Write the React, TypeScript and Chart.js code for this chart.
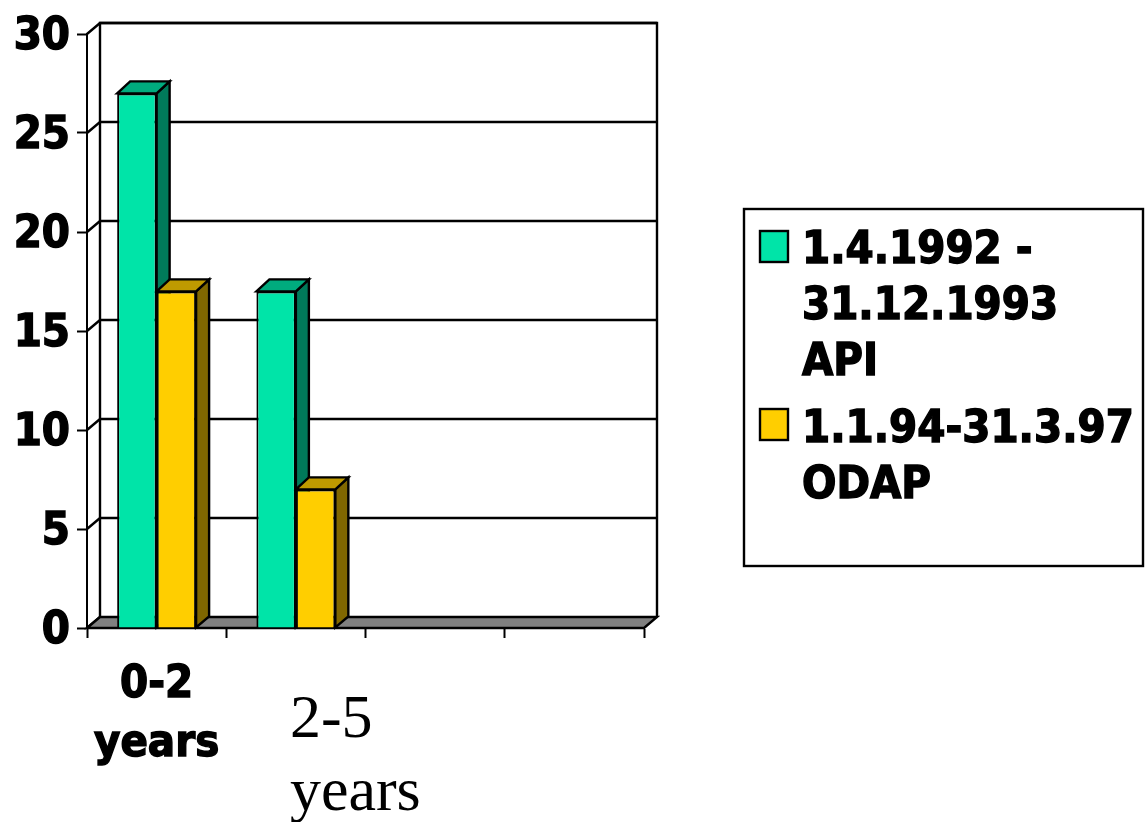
import React, { useEffect, useRef } from "react";
import { Chart, registerables } from "chart.js";

Chart.register(...registerables);

const categories: string[][] = [["0-2", "years"], ["2-5", "years"], [""], [""]];
const series1Lines = ["1.4.1992 -", "31.12.1993", "API"];
const series2Lines = ["1.1.94-31.3.97", "ODAP"];
const series1Values = [27, 17, null, null];
const series2Values = [17, 7, null, null];
const yMax = 30;
const yStep = 5;

const GREEN = "#00E4A8";
const GREEN_SIDE = "#007A5A";
const GREEN_TOP = "#00AB7E";
const YELLOW = "#FFCE00";
const YELLOW_SIDE = "#806700";
const YELLOW_TOP = "#BF9A00";
const INK = "#000000";
const BOLD_FAMILY = '"DejaVu Sans Condensed"';
const DEPTH_X = 13;
const WALL_DY = 11;
const TOP_DY = 12;
const LINE = 2.4;

const wall3d = {
  id: "wall3d",
  beforeDatasetsDraw(chart: any) {
    const { ctx, scales } = chart;
    const x = scales.x;
    const y = scales.y;
    ctx.save();
    ctx.lineWidth = LINE;
    ctx.strokeStyle = INK;
    const l = x.left;
    const r = x.right;
    const b = y.bottom;
    const t = y.top;
    ctx.beginPath();
    ctx.moveTo(l + DEPTH_X, b - WALL_DY);
    ctx.lineTo(l + DEPTH_X, t - WALL_DY);
    ctx.lineTo(r + DEPTH_X, t - WALL_DY);
    ctx.lineTo(r + DEPTH_X, b - WALL_DY);
    ctx.stroke();
    y.ticks.forEach((tk: any) => {
      const py = y.getPixelForValue(tk.value);
      ctx.beginPath();
      ctx.moveTo(l, py);
      ctx.lineTo(l + DEPTH_X, py - WALL_DY);
      if (tk.value > 0) ctx.lineTo(r + DEPTH_X, py - WALL_DY);
      ctx.stroke();
    });
    ctx.fillStyle = "#808080";
    ctx.beginPath();
    ctx.moveTo(l, b);
    ctx.lineTo(l + DEPTH_X, b - WALL_DY);
    ctx.lineTo(r + DEPTH_X, b - WALL_DY);
    ctx.lineTo(r, b);
    ctx.closePath();
    ctx.fill();
    ctx.stroke();

    const shades = [
      [GREEN_SIDE, GREEN_TOP],
      [YELLOW_SIDE, YELLOW_TOP],
    ];
    const n = categories.length;
    for (let i = 0; i < n; i++) {
      chart.data.datasets.forEach((_: any, d: number) => {
        const el = chart.getDatasetMeta(d).data[i];
        const val = chart.data.datasets[d].data[i];
        if (!el || val == null) return;
        const left = el.x - el.width / 2;
        const right = el.x + el.width / 2;
        ctx.fillStyle = shades[d][0];
        ctx.beginPath();
        ctx.moveTo(right, el.y);
        ctx.lineTo(right + DEPTH_X, el.y - TOP_DY);
        ctx.lineTo(right + DEPTH_X, el.base - WALL_DY);
        ctx.lineTo(right, el.base);
        ctx.closePath();
        ctx.fill();
        ctx.stroke();
        ctx.fillStyle = shades[d][1];
        ctx.beginPath();
        ctx.moveTo(left, el.y);
        ctx.lineTo(left + DEPTH_X, el.y - TOP_DY);
        ctx.lineTo(right + DEPTH_X, el.y - TOP_DY);
        ctx.lineTo(right, el.y);
        ctx.closePath();
        ctx.fill();
        ctx.stroke();
      });
    }
    ctx.restore();
  },
};

const textLayer = {
  id: "textLayer",
  afterDraw(chart: any) {
    const { ctx, scales } = chart;
    const x = scales.x;
    ctx.save();
    ctx.fillStyle = INK;
    ctx.strokeStyle = INK;
    ctx.textBaseline = "alphabetic";

    // category labels: the first is bold and centred, the second is serif and shifted
    ctx.font = `bold 45px ${BOLD_FAMILY}`;
    ctx.textAlign = "center";
    ctx.lineWidth = 1.4;
    categories[0].forEach((s, i) => {
      const px = x.getPixelForValue(0);
      const py = 697 + i * 59;
      ctx.fillText(s, px, py);
      ctx.strokeText(s, px, py);
    });
    ctx.font = '62px "Liberation Serif"';
    ctx.textAlign = "left";
    categories[1].forEach((s, i) => {
      ctx.fillText(s, x.getPixelForValue(1) - 6, 737 + i * 73);
    });

    // legend
    ctx.lineWidth = LINE;
    ctx.strokeRect(744, 209, 399, 357);
    const entries = [
      { lines: series1Lines, color: GREEN, top: 231, base: 263 },
      { lines: series2Lines, color: YELLOW, top: 409, base: 442 },
    ];
    ctx.font = `bold 45px ${BOLD_FAMILY}`;
    entries.forEach((e) => {
      ctx.fillStyle = e.color;
      ctx.fillRect(760, e.top, 28, 31);
      ctx.lineWidth = LINE;
      ctx.strokeRect(760, e.top, 28, 31);
      ctx.fillStyle = INK;
      ctx.lineWidth = 1.4;
      e.lines.forEach((s, i) => {
        ctx.fillText(s, 802, e.base + i * 56);
        ctx.strokeText(s, 802, e.base + i * 56);
      });
    });
    ctx.restore();
  },
};

export default function App() {
  const ref = useRef<HTMLCanvasElement>(null);
  useEffect(() => {
    if (!ref.current) return;
    const chart = new Chart(ref.current, {
      type: "bar",
      data: {
        labels: categories.map((c) => c.join(" ")),
        datasets: [
          {
            label: series1Lines.join(" "),
            data: series1Values,
            backgroundColor: GREEN,
            borderColor: INK,
            borderWidth: 2,
          },
          {
            label: series2Lines.join(" "),
            data: series2Values,
            backgroundColor: YELLOW,
            borderColor: INK,
            borderWidth: 2,
          },
        ],
      },
      options: {
        responsive: false,
        animation: false,
        devicePixelRatio: 1,
        layout: { padding: { left: 0, top: 34, right: 501, bottom: 0 } },
        plugins: { legend: { display: false }, tooltip: { enabled: false } },
        datasets: { bar: { barPercentage: 1, categoryPercentage: 0.567 } },
        scales: {
          x: {
            afterFit: (s: any) => {
              s.height = 194;
            },
            grid: {
              drawOnChartArea: false,
              tickLength: 10,
              tickColor: INK,
              tickWidth: 2,
            },
            border: { color: INK, width: 2 },
            ticks: { display: false },
          },
          y: {
            min: 0,
            max: yMax,
            afterFit: (s: any) => {
              s.width = 87;
            },
            grid: {
              drawOnChartArea: false,
              tickLength: 10,
              tickColor: INK,
              tickWidth: 2,
            },
            border: { color: INK, width: 2 },
            ticks: {
              stepSize: yStep,
              color: INK,
              padding: 7,
              labelOffset: 3,
              font: { family: "DejaVu Sans Condensed", size: 45, weight: "bold" },
              textStrokeColor: INK,
              textStrokeWidth: 1.4,
            },
          },
        },
      },
      plugins: [wall3d, textLayer],
    } as any);
    return () => chart.destroy();
  }, []);
  return (
    <div style={{ position: "absolute", left: 0, top: 0 }}>
      <canvas ref={ref} width={1145} height={822} style={{ display: "block" }} />
    </div>
  );
}
